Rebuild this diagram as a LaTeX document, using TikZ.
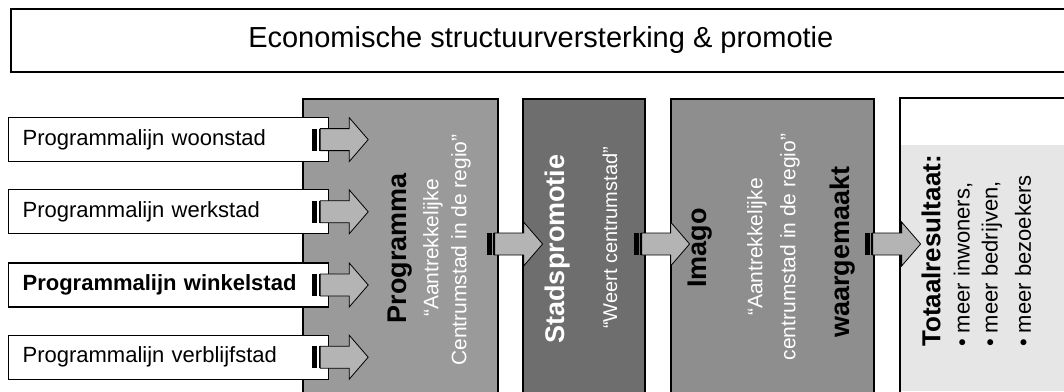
\documentclass[tikz,border=0pt]{standalone}
\usepackage{fontspec}
\setmainfont{Liberation Sans}
\usetikzlibrary{positioning,calc}
\definecolor{ProgGray}{HTML}{9A9A9A}
\definecolor{StadGray}{HTML}{6E6E6E}
\definecolor{ImagoGray}{HTML}{8E8E8E}
\definecolor{ResultGray}{HTML}{E6E6E6}
\definecolor{ArrowGray}{HTML}{B4B4B4}

\begin{document}
\begin{tikzpicture}[x=1pt,y=-1pt,
    linebox/.style={draw,line width=1.2pt,fill=white,anchor=north west,
      minimum width=320pt,minimum height=44pt,text width=292pt,inner xsep=14pt,
      align=left,font=\fontsize{22}{25}\selectfont},
    colbox/.style={draw,line width=1.6pt,anchor=north west,minimum height=330pt},
    coltitle/.style={rotate=90,font=\fontsize{27}{30}\selectfont\bfseries},
    colquote/.style={rotate=90,font=\fontsize{21}{24}\selectfont},
    striparrow/.pic={
      \fill (0,-11) rectangle (5,11);
      \fill (6.5,-11) rectangle (8,11);
      \draw[fill=ArrowGray,line width=0.8pt] (8,-11) -- (37,-11) -- (37,-22) -- (56,0)
        -- (37,22) -- (37,11) -- (8,11) -- cycle;
    }]
  \useasboundingbox (0,0) rectangle (1064,391);
  \clip (0,0) rectangle (1064,391);

  % title bar
  \node[draw,line width=1.6pt,anchor=north west,minimum width=1060pt,minimum height=63pt,
    font=\fontsize{29}{33}\selectfont] (title) at (10,8) {Economische structuurversterking \& promotie};

  % columns
  \node[colbox,fill=ProgGray,minimum width=195pt] (prog) at (302,98) {};
  \node[colbox,fill=StadGray,minimum width=122pt] (stad) at (522,98) {};
  \node[colbox,fill=ImagoGray,minimum width=203pt] (imago) at (670,98) {};
  \node[colbox,fill=white,minimum width=200pt] (result) at (899,97) {};
  \fill[ResultGray] (901,145) rectangle (1064,391);

  % programme lines
  \node[linebox] (woon) at (8,117) {Programmalijn woonstad};
  \node[linebox,below=27pt of woon] (werk) {Programmalijn werkstad};
  \node[linebox,below=28pt of werk,font=\fontsize{22}{25}\selectfont\bfseries] (winkel) {Programmalijn winkelstad};
  \node[linebox,below=27pt of winkel] (verblijf) {Programmalijn verblijfstad};

  % arrows
  \coordinate (mid) at (0,244);
  \pic at ($(woon.east)+(-17,0)$) {striparrow};
  \pic at ($(werk.east)+(-17,0)$) {striparrow};
  \pic at ($(winkel.east)+(-17,0)$) {striparrow};
  \pic at ($(verblijf.east)+(-17,0)$) {striparrow};
  \pic at ($(prog.east |- mid)+(-12,0)$) {striparrow};
  \pic at ($(stad.east |- mid)+(-12,0)$) {striparrow};
  \pic at ($(imago.east |- mid)+(-10,0)$) {striparrow};

  % column texts
  \node[coltitle] (progtitle) at (400,248) {Programma};
  \node[colquote,text=white] (progq1) at (433,248) {“Aantrekkelijke};
  \node[colquote,text=white] (progq2) at (461,250) {Centrumstad in de regio”};

  \node[coltitle,text=white] (stadtitle) at (558,249) {Stadspromotie};
  \node[colquote,text=white,font=\fontsize{20}{24}\selectfont] (stadq) at (610,238) {“Weert centrumstad”};

  \node[coltitle] (imagotitle) at (700,248) {Imago};
  \node[colquote,text=white] (imagoq1) at (757,247) {“Aantrekkelijke};
  \node[colquote,text=white] (imagoq2) at (790,247) {centrumstad in de regio”};
  \node[coltitle] (imagoend) at (843,252) {waargemaakt};

  \node[rotate=90,anchor=west,inner sep=0pt,font=\fontsize{26}{30}\selectfont\bfseries] (restitle) at (931,347) {Totaalresultaat:};
  \node[rotate=90,anchor=west,inner sep=0pt,font=\fontsize{22}{26}\selectfont] (res1) at (963,347) {• meer inwoners,};
  \node[rotate=90,anchor=west,inner sep=0pt,font=\fontsize{22}{26}\selectfont] (res2) at (992,347) {• meer bedrijven,};
  \node[rotate=90,anchor=west,inner sep=0pt,font=\fontsize{22}{26}\selectfont] (res3) at (1023,347) {• meer bezoekers};
\end{tikzpicture}
\end{document}
